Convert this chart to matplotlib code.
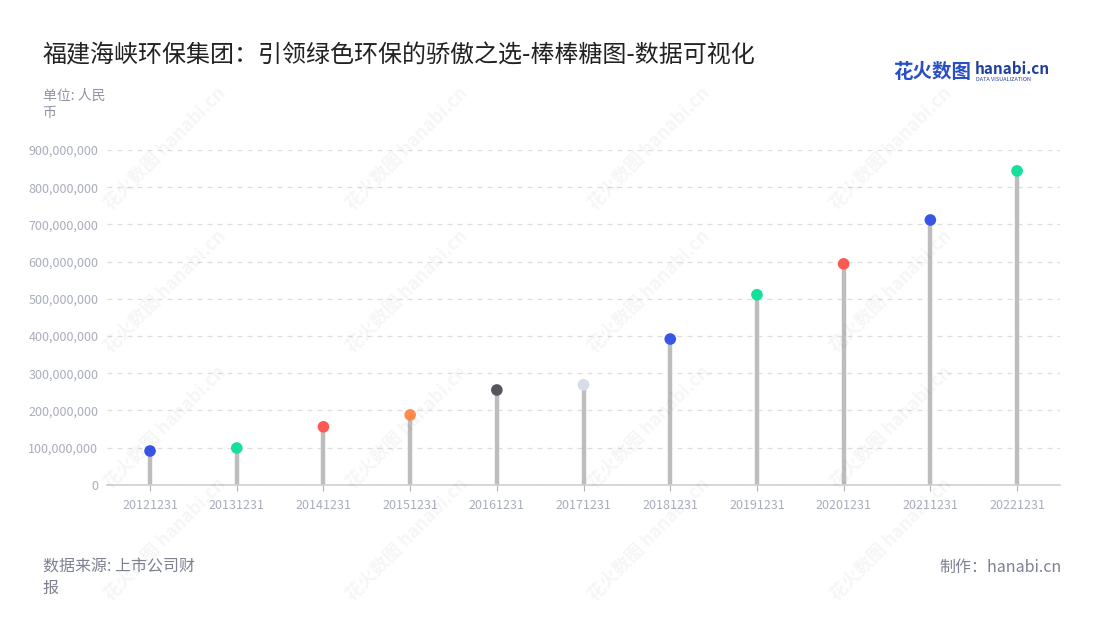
import numpy as np
import matplotlib.pyplot as plt
from matplotlib.ticker import FuncFormatter

plt.rcParams['font.family'] = ['Noto Sans CJK SC', 'DejaVu Sans']

# data
dates = ['20121231', '20131231', '20141231', '20151231', '20161231', '20171231',
         '20181231', '20191231', '20201231', '20211231', '20221231']
values = [91e6, 99e6, 156e6, 188e6, 255e6, 269e6, 392e6, 511e6, 594e6, 712e6, 844e6]
dot_colors = ['#3656e3', '#14df9c', '#fb5a52', '#ff8b4e', '#555560', '#d9dde8',
              '#3656e3', '#14df9c', '#fb5a52', '#3656e3', '#14df9c']
yticks = np.arange(0, 900e6 + 1, 100e6)

fig = plt.figure(figsize=(11, 6.2), dpi=100)
ax = fig.add_axes([0.097, 0.218, 0.867, 0.54])

x = np.arange(len(dates))
ax.vlines(x, 0, values, color='#bdbdbd', linewidth=3.2, zorder=2)
ax.scatter(x, values, s=70, c=dot_colors, zorder=3, edgecolors='none')

ax.set_xlim(-0.5, len(dates) - 0.5)
ax.set_ylim(0, 900e6)
ax.set_yticks(yticks)
ax.yaxis.set_major_formatter(FuncFormatter(lambda v, p: f'{int(v):,}'))
ax.set_xticks(x)
ax.set_xticklabels(dates)
ax.tick_params(axis='both', colors='#b0b3c0', labelsize=9, length=4, labelcolor='#a9adbb')
ax.tick_params(axis='y', length=0, pad=6)
ax.tick_params(axis='x', pad=6)
ax.grid(axis='y', color='#dddddd', linestyle=(0, (4, 4)), linewidth=0.9)
ax.set_axisbelow(True)
for s in ['top', 'right', 'left']:
    ax.spines[s].set_visible(False)
ax.spines['bottom'].set_color('#cfcfcf')
ax.spines['bottom'].set_linewidth(1.2)

# watermarks
for wx in [0.15, 0.37, 0.59, 0.81]:
    for wy in [0.76, 0.53, 0.31, 0.13]:
        fig.text(wx, wy, '花火数图 hanabi.cn', fontsize=13, color='#000000', alpha=0.04,
                 rotation=45, ha='center', va='center', fontweight='bold')

fig.text(0.039, 0.91, '福建海峡环保集团：引领绿色环保的骄傲之选-棒棒糖图-数据可视化',
         fontsize=17.3, color='#222222', va='center')
fig.text(0.039, 0.832, '单位: 人民\n币', fontsize=10, color='#8f93a2', va='center',
         linespacing=1.3)
fig.text(0.039, 0.068, '数据来源: 上市公司财\n报', fontsize=11.5, color='#7d8190', va='center',
         linespacing=1.3)
fig.text(0.965, 0.085, '制作：hanabi.cn', fontsize=11.5, color='#7d8190', ha='right',
         va='center')

# logo
fig.text(0.812, 0.883, '花火数图', fontsize=14, color='#2a4fc4', fontweight='bold', va='center')
fig.text(0.886, 0.889, 'hanabi.cn', fontsize=11, color='#1f3f9e', fontweight='bold', va='center')
fig.text(0.887, 0.872, 'DATA VISUALIZATION', fontsize=4, color='#1f3f9e', va='center')

fig.savefig('out.png', dpi=100)
